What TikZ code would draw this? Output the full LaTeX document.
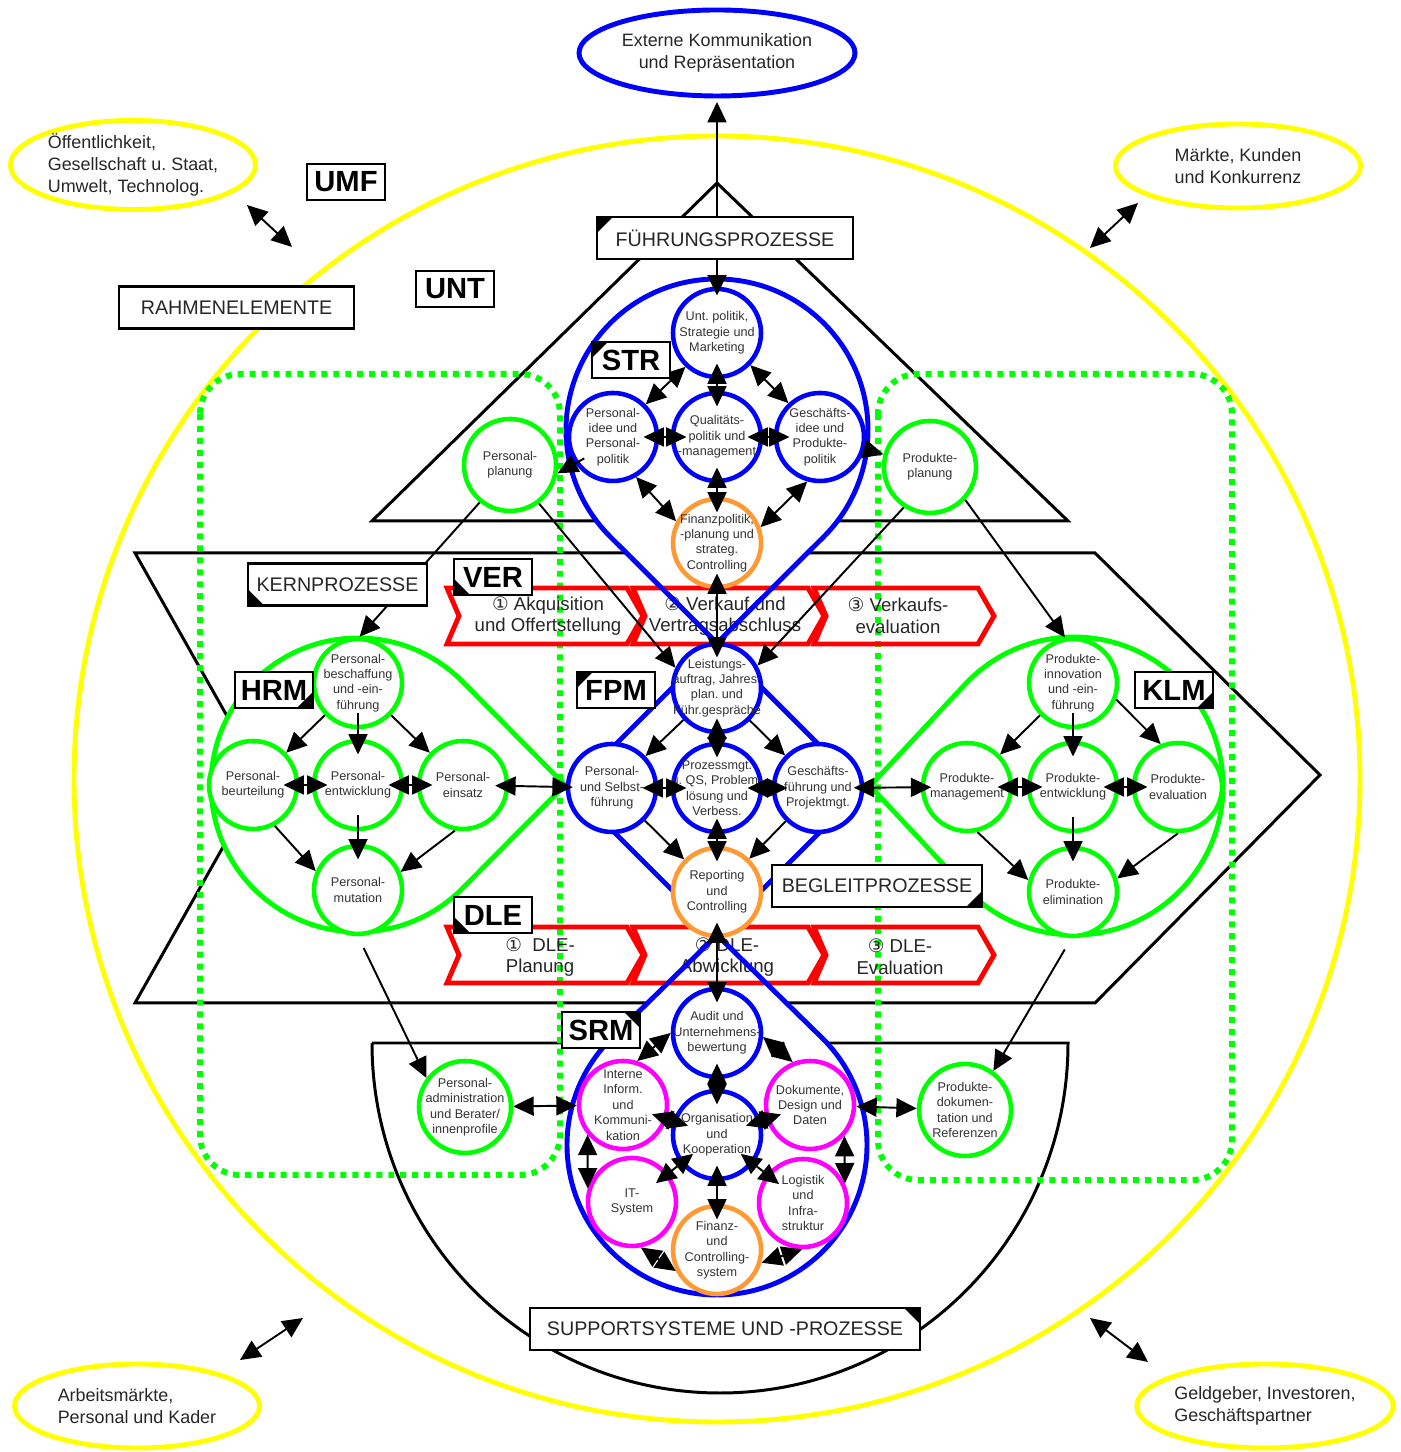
\documentclass[tikz,border=0pt]{standalone}
\usepackage{fontspec}
\setmainfont{Liberation Sans}
\newfontfamily\numfont{DejaVu Sans}
\usetikzlibrary{arrows.meta,shapes.geometric}

\definecolor{kgreen}{RGB}{0,255,0}
\definecolor{korange}{RGB}{255,153,51}
\definecolor{kyellow}{RGB}{255,255,0}
\definecolor{kmagenta}{RGB}{255,0,255}

\tikzset{
	proc/.style={circle, draw=#1, fill=white, line width=1.3pt, minimum size=0.88cm, inner sep=-3pt, align=center, text=black!80, font=\fontsize{3.6}{4.4}\selectfont},
	proc/.default=blue,
	env/.style={ellipse, draw=kyellow, line width=1.4pt, minimum width=2.45cm, minimum height=0.84cm, inner sep=0pt, align=left, text=black!85, font=\fontsize{5.1}{6.3}\selectfont},
	tagbox/.style={draw, fill=white, line width=0.6pt, minimum width=0.78cm, minimum height=0.36cm, inner sep=0pt, font=\bfseries\fontsize{8.3}{9}\selectfont},
	headbox/.style={draw, fill=white, line width=0.6pt, minimum height=0.42cm, inner sep=0pt, text=black!85, font=\fontsize{5.6}{7}\selectfont},
	earTL/.style={path picture={\fill[black] (path picture bounding box.north west) -- ++(0.16,0) -- ++(-0.16,-0.16) -- cycle;}},
	earTR/.style={path picture={\fill[black] (path picture bounding box.north east) -- ++(-0.16,0) -- ++(0.16,-0.16) -- cycle;}},
	earBL/.style={path picture={\fill[black] (path picture bounding box.south west) -- ++(0.16,0) -- ++(-0.16,0.16) -- cycle;}},
	earBR/.style={path picture={\fill[black] (path picture bounding box.south east) -- ++(-0.16,0) -- ++(0.16,0.16) -- cycle;}},
	steptext/.style={align=center, text=black!85, font=\fontsize{5.3}{6.2}\selectfont},
	con/.style={->, line width=0.55pt},
	dcon/.style={<->, line width=0.55pt},
	overlap/.style={shorten <=-4.5pt, shorten >=-4.5pt},
	chev/.style={draw=red, line width=1.4pt},
	blackline/.style={line width=0.85pt},
	blueline/.style={draw=blue, line width=1.4pt},
	greenline/.style={draw=kgreen, line width=1.4pt},
	dotbox/.style={draw=kgreen, line width=1.7pt, dash pattern=on 1.7pt off 1.7pt, rounded corners=0.4cm}
}

\begin{document}
\frenchspacing
\begin{tikzpicture}[>={Triangle[length=5.8pt,width=5.4pt]}]
	\useasboundingbox (0,0) rectangle (14.01,14.52);

	% Umfeld
	\draw[kyellow, line width=1.4pt] (7.17,6.73) circle (6.43);
	\node[env] (oeff) at (1.33,12.87) {Öffentlichkeit,\\Gesellschaft u. Staat,\\Umwelt, Technolog.};
	\node[env] (mkt) at (12.38,12.86) {Märkte, Kunden\\und Konkurrenz};
	\node[env] (arb) at (1.37,0.46) {Arbeitsmärkte,\\Personal und Kader};
	\node[env] (geld) at (12.65,0.46) {Geldgeber, Investoren,\\Geschäftspartner};
	\coordinate (oeff-a) at (2.47,12.47);
	\coordinate (oeff-b) at (2.92,12.05);
	\coordinate (mkt-a) at (11.38,12.49);
	\coordinate (mkt-b) at (10.90,12.04);
	\coordinate (arb-a) at (2.40,0.92);
	\coordinate (arb-b) at (3.03,1.34);
	\coordinate (geld-a) at (11.48,0.90);
	\coordinate (geld-b) at (10.90,1.34);
	\draw[dcon] (oeff-a) -- (oeff-b);
	\draw[dcon] (mkt-a) -- (mkt-b);
	\draw[dcon] (arb-a) -- (arb-b);
	\draw[dcon] (geld-a) -- (geld-b);

	% Prozessebenen
	\draw[blackline] (7.17,12.69) -- (3.72,9.31) -- (10.68,9.31) -- cycle;
	\draw[blackline] (1.35,8.99) -- (10.95,8.99) -- (13.20,6.77) -- (10.95,4.49) -- (1.35,4.49) -- (2.62,6.74) -- cycle;
	\draw[blackline] (3.72,4.09) -- (10.68,4.09) arc[start angle=0, end angle=-180, x radius=3.48, y radius=3.50] -- cycle;

	\fill[white] (7.17,10.22) ++(-45.15:1.51) arc[start angle=-45.15, end angle=225.15, radius=1.51] -- (7.17,8.09) -- cycle;
	\fill[white] (7.17,3.07) ++(134.4:1.5) arc[start angle=134.4, end angle=405.6, radius=1.5] -- (7.17,5.17) -- cycle;
	\fill[white] (3.58,6.67) ++(44.75:1.47) arc[start angle=44.75, end angle=315.25, radius=1.47] -- (5.65,6.67) -- cycle;

	\draw[dotbox] (2.00,10.78) rectangle (5.60,2.77);
	\draw[dotbox] (8.78,10.78) rectangle (12.32,2.72);

	\foreach \a/\b in {4.47/6.27, 6.33/8.08, 8.14/9.78} {
		\draw[chev] (\a,8.64) -- (\b,8.64) -- (\b+0.16,8.36) -- (\b,8.08) -- (\a,8.08) -- (\a+0.12,8.36) -- cycle;
		\draw[chev] (\a,5.25) -- (\b,5.25) -- (\b+0.16,4.97) -- (\b,4.69) -- (\a,4.69) -- (\a+0.12,4.97) -- cycle;
	}
	\node[steptext] (ver1) at (5.48,8.36) {{\numfont ①} Akquisition\\und Offertstellung};
	\node[steptext] (ver2) at (7.25,8.36) {{\numfont ②} Verkauf und\\Vertragsabschluss};
	\node[steptext] (ver3) at (8.98,8.36) {{\numfont ③} Verkaufs-\\evaluation};
	\node[steptext] (dle1) at (5.40,4.95) {{\numfont ①}\ \ DLE-\\Planung};
	\node[steptext] (dle2) at (7.27,4.95) {{\numfont ②} DLE-\\Abwicklung};
	\node[steptext] (dle3) at (9.00,4.95) {{\numfont ③} DLE-\\Evaluation};

	\draw[blueline] (7.17,10.22) ++(-45.15:1.51) arc[start angle=-45.15, end angle=225.15, radius=1.51] -- (7.17,8.09) -- cycle;
	\draw[blueline] (7.17,8.09) -- (5.71,6.63) -- (7.17,5.17) -- (8.63,6.63) -- cycle;
	\draw[blueline] (7.17,3.07) ++(134.4:1.5) arc[start angle=134.4, end angle=405.6, radius=1.5] -- (7.17,5.17) -- cycle;
	\draw[greenline] (3.58,6.67) ++(44.75:1.47) arc[start angle=44.75, end angle=315.25, radius=1.47] -- (5.65,6.67) -- cycle;
	\draw[greenline] (10.74,6.66) ++(223.08:1.49) arc[start angle=223.08, end angle=496.92, radius=1.49] -- (8.70,6.66) -- cycle;

	\node[env, draw=blue, align=center, minimum width=2.76cm, minimum height=0.86cm] (ext) at (7.17,13.99) {Externe Kommunikation\\und Repräsentation};

	% STR
	\node[proc] (unt) at (7.17,11.19) {Unt. politik,\\Strategie und\\Marketing};
	\node[proc] (pid) at (6.13,10.15) {Personal-\\idee und\\Personal-\\politik};
	\node[proc] (qual) at (7.17,10.15) {Qualitäts-\\politik und\\-management};
	\node[proc] (gid) at (8.20,10.15) {Geschäfts-\\idee und\\Produkte-\\politik};
	\node[proc=korange] (fin) at (7.17,9.09) {Finanzpolitik,\\-planung und\\strateg.\\Controlling};
	\node[proc=kgreen, minimum size=0.92cm] (pplan) at (5.10,9.87) {Personal-\\planung};
	\node[proc=kgreen, minimum size=0.92cm] (prodplan) at (9.30,9.85) {Produkte-\\planung};

	% FPM
	\node[proc] (lei) at (7.17,7.64) {Leistungs-\\auftrag, Jahres-\\plan. und\\Führ.gespräche};
	\node[proc] (psf) at (6.12,6.64) {Personal-\\und Selbst-\\führung};
	\node[proc] (prz) at (7.17,6.64) {Prozessmgt.\\u. QS, Problem-\\lösung und\\Verbess.};
	\node[proc] (gfp) at (8.18,6.64) {Geschäfts-\\führung und\\Projektmgt.};
	\node[proc=korange] (rep) at (7.17,5.60) {Reporting\\und\\Controlling};

	% HRM
	\node[proc=kgreen] (pbes) at (3.58,7.69) {Personal-\\beschaffung\\und -ein-\\führung};
	\node[proc=kgreen] (pbeu) at (2.53,6.67) {Personal-\\beurteilung};
	\node[proc=kgreen] (pent) at (3.58,6.67) {Personal-\\entwicklung};
	\node[proc=kgreen] (pein) at (4.63,6.67) {Personal-\\einsatz};
	\node[proc=kgreen] (pmut) at (3.58,5.62) {Personal-\\mutation};

	% KLM
	\node[proc=kgreen] (pinn) at (10.73,7.69) {Produkte-\\innovation\\und -ein-\\führung};
	\node[proc=kgreen] (pman) at (9.67,6.65) {Produkte-\\management};
	\node[proc=kgreen] (pentw) at (10.73,6.65) {Produkte-\\entwicklung};
	\node[proc=kgreen] (peva) at (11.78,6.65) {Produkte-\\evaluation};
	\node[proc=kgreen] (pelim) at (10.73,5.60) {Produkte-\\elimination};

	% SRM
	\node[proc] (aud) at (7.17,4.19) {Audit und\\Unternehmens-\\bewertung};
	\node[proc=kmagenta] (iik) at (6.23,3.47) {Interne\\Inform.\\und\\Kommuni-\\kation};
	\node[proc=kmagenta] (dok) at (8.10,3.47) {Dokumente,\\Design und\\Daten};
	\node[proc] (org) at (7.17,3.17) {Organisation\\und\\Kooperation};
	\node[proc=kmagenta] (its) at (6.32,2.50) {IT-\\System};
	\node[proc=kmagenta] (log) at (8.03,2.49) {Logistik\\und\\Infra-\\struktur};
	\node[proc=korange] (fcs) at (7.17,2.02) {Finanz-\\und\\Controlling-\\system};
	\node[proc=kgreen, minimum size=0.92cm] (padm) at (4.65,3.45) {Personal-\\administration\\und Berater/\\innenprofile};
	\node[proc=kgreen, minimum size=0.92cm] (pdok) at (9.65,3.42) {Produkte-\\dokumen-\\tation und\\Referenzen};

	\draw[dcon, shorten <=1pt, shorten >=-2.5pt] (ext) -- (unt);
	\draw[dcon] (unt.227) -- (pid.45);
	\draw[dcon] (unt.-44) -- (gid.133);
	\draw[dcon, overlap] (unt) -- (qual);
	\draw[dcon, overlap] (pid) -- (qual);
	\draw[dcon, overlap] (qual) -- (gid);
	\draw[dcon, overlap] (qual) -- (fin);
	\draw[dcon] (pid.-60) -- (fin.152);
	\draw[dcon] (gid.254) -- (fin.20);
	\draw[con, shorten <=-3pt] (pid.215) -- (pplan.-10);
	\draw[con, shorten <=-3pt] (gid) -- (prodplan);
	\draw[con] (pplan.-53) -- (lei.154);
	\draw[con] (prodplan.237) -- (lei.29);
	\draw[con] (pplan.231) -- (pbes.88);
	\draw[con] (prodplan.-43) -- (pinn.100);
	\draw[dcon, overlap] (lei) -- (fin);

	\draw[con] (lei) -- (psf);
	\draw[con] (lei) -- (gfp);
	\draw[dcon, overlap] (lei) -- (prz);
	\draw[dcon, overlap] (psf) -- (prz);
	\draw[dcon, overlap] (prz) -- (gfp);
	\draw[con] (psf) -- (rep);
	\draw[con] (gfp) -- (rep);
	\draw[dcon, overlap] (prz) -- (rep);
	\draw[dcon, overlap] (rep) -- (aud);
	\draw[dcon, shorten <=-4pt, shorten >=-2pt] (pein) -- (psf);
	\draw[dcon, shorten <=-3pt, shorten >=-3pt] (gfp) -- (pman);

	\draw[con] (pbes) -- (pbeu);
	\draw[con, overlap] (pbes) -- (pent);
	\draw[con] (pbes) -- (pein);
	\draw[dcon, overlap] (pbeu) -- (pent);
	\draw[dcon, overlap] (pent) -- (pein);
	\draw[con] (pbeu.-62) -- (pmut.156);
	\draw[con, overlap] (pent) -- (pmut);
	\draw[con] (pein.260) -- (pmut.23);
	\draw[con, shorten <=3.7pt] (pmut.-90) -- (padm.143);

	\draw[con] (pinn) -- (pman);
	\draw[con, overlap] (pinn) -- (pentw);
	\draw[con] (pinn.-21) -- (peva.112);
	\draw[dcon, overlap] (pman) -- (pentw);
	\draw[dcon, overlap] (pentw) -- (peva);
	\draw[con] (pman.-77) -- (pelim.165);
	\draw[con, overlap] (pentw) -- (pelim);
	\draw[con] (peva.-90) -- (pelim.17);
	\draw[con, shorten <=3.7pt] (pelim.-92) -- (pdok.54);

	\draw[dcon] (iik.72) -- (aud.180);
	\draw[dcon] (aud.-5) -- (dok.112);
	\draw[dcon, overlap] (aud) -- (org);
	\draw[dcon, overlap] (iik) -- (org);
	\draw[dcon, overlap] (dok) -- (org);
	\draw[dcon] (iik.220) -- (its.163);
	\draw[dcon] (dok.318) -- (log.25);
	\draw[dcon, overlap] (its) -- (org);
	\draw[dcon, overlap] (org) -- (log);
	\draw[dcon, overlap] (org) -- (fcs);
	\draw[dcon] (its.-79) -- (fcs.207);
	\draw[dcon] (log.-91) -- (fcs.-16);
	\draw[dcon] (padm) -- (iik);
	\draw[dcon] (dok) -- (pdok);

	% Beschriftungen
	\node[tagbox] (tumf) at (3.46,12.70) {UMF};
	\node[tagbox] (tunt) at (4.55,11.63) {UNT};
	\node[tagbox, earTL] (tstr) at (6.31,10.92) {STR};
	\node[tagbox, earBL] (tver) at (4.93,8.75) {VER};
	\node[tagbox, earTL] (tfpm) at (6.16,7.62) {FPM};
	\node[tagbox, earBR] (thrm) at (2.74,7.62) {HRM};
	\node[tagbox, earBR] (tklm) at (11.74,7.62) {KLM};
	\node[tagbox, earBL] (tdle) at (4.93,5.37) {DLE};
	\node[tagbox, earTR] (tsrm) at (6.01,4.22) {SRM};

	\node[headbox, minimum width=2.35cm] (rahmen) at (2.365,11.445) {RAHMENELEMENTE};
	\node[headbox, earTL, minimum width=2.56cm] (fuehr) at (7.25,12.14) {FÜHRUNGSPROZESSE};
	\node[headbox, earBL, minimum width=1.79cm] (kern) at (3.375,8.675) {KERNPROZESSE};
	\node[headbox, earBR, minimum width=2.10cm] (begl) at (8.77,5.66) {BEGLEITPROZESSE};
	\node[headbox, earTR, minimum width=3.90cm] (supp) at (7.25,1.23) {SUPPORTSYSTEME UND -PROZESSE};
\end{tikzpicture}
\end{document}
